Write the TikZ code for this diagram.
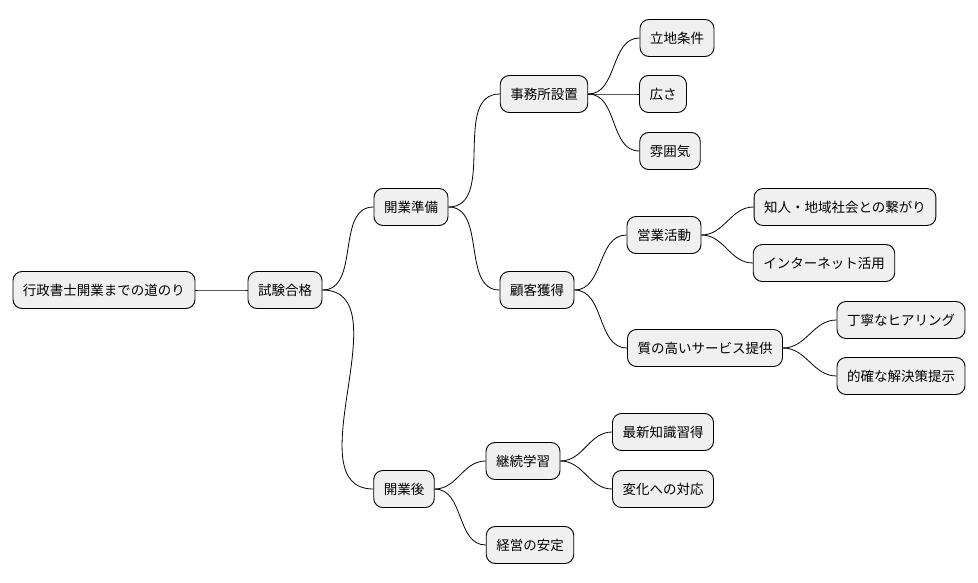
\documentclass[tikz,border=0pt]{standalone}
\usepackage{fontspec}
\setmainfont{Noto Sans CJK JP}
\begin{document}
\begin{tikzpicture}[x=1pt,y=-1pt,
  n/.style={draw=black,line width=0.9pt,fill=gray!12,rounded corners=9pt,minimum height=37pt,inner xsep=10pt,font=\fontsize{13.5}{16}\selectfont,anchor=center},
  e/.style={line width=0.8pt}]
\useasboundingbox (0,0) rectangle (978,583);
\node[n] (r) at (104,290) {行政書士開業までの道のり};
\node[n] (a) at (285,290) {試験合格};
\node[n] (b) at (411,207) {開業準備};
\node[n] (c) at (404,489) {開業後};
\node[n] (d) at (544,94) {事務所設置};
\node[n] (f) at (537,290) {顧客獲得};
\node[n] (g1) at (677,38) {立地条件};
\node[n] (g2) at (663,94) {広さ};
\node[n] (g3) at (670,151) {雰囲気};
\node[n] (h) at (664,235) {営業活動};
\node[n] (h1) at (845,207) {知人・地域社会との繋がり};
\node[n] (h2) at (824,263) {インターネット活用};
\node[n] (q) at (705,348) {質の高いサービス提供};
\node[n] (q1) at (901,320) {丁寧なヒアリング};
\node[n] (q2) at (901,376) {的確な解決策提示};
\node[n] (k) at (523,461) {継続学習};
\node[n] (k1) at (663,432) {最新知識習得};
\node[n] (k2) at (663,489) {変化への対応};
\node[n] (s) at (530,545) {経営の安定};
\foreach \p/\c in {r/a,a/b,a/c,b/d,b/f,d/g1,d/g2,d/g3,f/h,f/q,h/h1,h/h2,q/q1,q/q2,c/k,c/s,k/k1,k/k2}
  \draw[e] (\p.east) to[out=0,in=180] (\c.west);
\end{tikzpicture}
\end{document}
